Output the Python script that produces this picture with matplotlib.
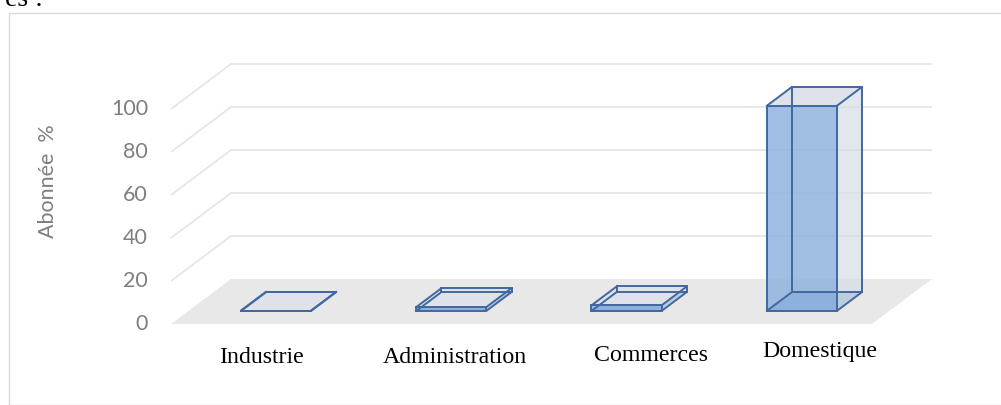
import matplotlib
matplotlib.use("Agg")
import matplotlib.pyplot as plt
from matplotlib.patches import Polygon, Rectangle

# ---- data -------------------------------------------------------------
categories = ["Industrie", "Administration", "Commerces", "Domestique"]
values = [0.2, 1.8, 2.6, 95.4]          # share of subscribers, %
y_ticks = [0, 20, 40, 60, 80, 100]
y_title = "Abonnée  %"

# ---- layout (pixels of a 1001 x 405 canvas) ------------------------------
W, H = 1001, 405
ORIGIN = (171, 324)        # front-left corner of the floor
SX = 175.25                # pixels per category slot
SY = 2.15                  # pixels per percent
DEPTH_PX = (60, 45)        # oblique offset of the back wall
DXU = DEPTH_PX[0] / SX
DVU = DEPTH_PX[1] / SY
BAR_X = (0.3, 0.7)         # bar span inside its slot
BAR_D = (0.29, 0.71)       # bar span in depth

GRID_C = "#e4e4e4"
FLOOR_C = "#e8e8e8"
EDGE_C = "#41689f"
FRONT_C = "#8fb3de"
BOTTOM_C = "#6f98cc"
SIDE_C = "#d6dce6"
TOP_C = "#dfe2e8"
TEXT_C = "#7f7f7f"

fig = plt.figure(figsize=(W / 100, H / 100), dpi=100)
ax = fig.add_axes([0, 0, 1, 1])
ax.set_xlim(-ORIGIN[0] / SX, (W - ORIGIN[0]) / SX)
ax.set_ylim(-(H - ORIGIN[1]) / SY, ORIGIN[1] / SY)
ax.axis("off")

n = len(categories)


def proj(x, v, d):
    """Oblique projection of (slot position, value, depth) onto the axes."""
    return (x + d * DXU, v + d * DVU)


# chart frame
fig.patches.append(Rectangle((8.5 / W, 0), (W + 10) / W, (H - 12.5) / H,
                             transform=fig.transFigure, fill=False,
                             edgecolor="#d9d9d9", linewidth=1.0))

# text running in from the page above the chart
fig.text(43 / W, 1 - 6 / H, "es :", family="Liberation Serif", fontsize=20,
         ha="right", va="baseline", color="black")

# floor
floor = [proj(0, 0, 0), proj(n, 0, 0), proj(n, 0, 1), proj(0, 0, 1)]
ax.add_patch(Polygon(floor, closed=True, facecolor=FLOOR_C, edgecolor="none",
                     zorder=1))

# side-wall and back-wall gridlines
for lv in y_ticks[1:]:
    pts = [proj(0, lv, 0), proj(0, lv, 1), proj(n, lv, 1)]
    ax.plot([p[0] for p in pts], [p[1] for p in pts], color=GRID_C,
            lw=1.2, solid_capstyle="butt", zorder=2)

# value axis labels
for lv in y_ticks:
    ax.text(-(ORIGIN[0] - 148) / SX, lv, str(lv), family="Lato",
            fontsize=15.5, color=TEXT_C, ha="right", va="center")

ax.text(-(ORIGIN[0] - 48) / SX, (ORIGIN[1] - 181) / SY, y_title,
        family="Lato", fontsize=15.5, color=TEXT_C, rotation=90,
        ha="center", va="center")

# 3-D bars
for i, v in enumerate(values):
    x0, x1 = i + BAR_X[0], i + BAR_X[1]
    d0, d1 = BAR_D
    A, B = proj(x0, 0, d0), proj(x1, 0, d0)
    C, D = proj(x1, v, d0), proj(x0, v, d0)
    E, F = proj(x0, 0, d1), proj(x1, 0, d1)
    G, Hh = proj(x1, v, d1), proj(x0, v, d1)

    ax.add_patch(Polygon([A, B, F, E], facecolor=BOTTOM_C, alpha=0.8,
                         edgecolor="none", zorder=3))
    ax.add_patch(Polygon([B, F, G, C], facecolor=SIDE_C, alpha=0.7,
                         edgecolor="none", zorder=4))
    ax.add_patch(Polygon([D, C, G, Hh], facecolor=TOP_C, alpha=1.0,
                         edgecolor="none", zorder=4))
    ax.add_patch(Polygon([A, B, C, D], facecolor=FRONT_C, alpha=0.85,
                         edgecolor="none", zorder=5))

    edges = [(A, B), (B, C), (C, D), (D, A),
             (E, F), (F, G), (G, Hh), (Hh, E),
             (A, E), (B, F), (C, G), (D, Hh)]
    for p, q in edges:
        ax.plot([p[0], q[0]], [p[1], q[1]], color=EDGE_C, lw=1.4,
                solid_capstyle="round", zorder=6)

# category labels
label_x = [0.514, 1.62, 2.74, 3.70]
label_base = [363, 363, 361, 357.5]
for name, lx, by in zip(categories, label_x, label_base):
    ax.text(lx, (ORIGIN[1] - by) / SY, name, family="Liberation Serif",
            fontsize=17.2, color="black", ha="center", va="baseline")

fig.savefig("out.png", dpi=100)
